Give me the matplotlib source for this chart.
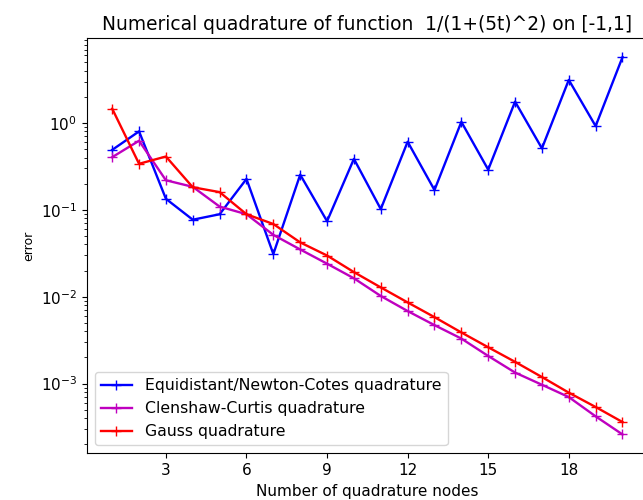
import numpy as np
import matplotlib
matplotlib.use('Agg')
import matplotlib.pyplot as plt

# number of quadrature nodes
nodes = list(range(1, 21))

# errors
err_equi = [0.49, 0.80, 0.134, 0.077, 0.089, 0.227, 0.031, 0.254, 0.074, 0.386,
            0.102, 0.608, 0.169, 1.03, 0.29, 1.76, 0.51, 3.13, 0.92, 5.72]
err_cc = [0.404, 0.624, 0.219, 0.184, 0.109, 0.089, 0.0515, 0.035, 0.024, 0.0163,
          0.0102, 0.00684, 0.00471, 0.0033, 0.00208, 0.00134, 0.00097, 0.0007, 0.00042, 0.00026]
err_gauss = [1.46, 0.339, 0.411, 0.182, 0.160, 0.089, 0.0687, 0.0422, 0.0298, 0.0192,
             0.0128, 0.0086, 0.00582, 0.00388, 0.00262, 0.00178, 0.00119, 0.000787, 0.000538, 0.000361]

fig = plt.figure(figsize=(6.43, 5.0), dpi=100)
ax = fig.add_axes([0.1348, 0.0934, 0.873, 0.83])

ax.semilogy(nodes, err_equi, 'b+-', lw=1.7, ms=7, label='Equidistant/Newton-Cotes quadrature')
ax.semilogy(nodes, err_cc, 'm+-', lw=1.7, ms=7, label='Clenshaw-Curtis quadrature')
ax.semilogy(nodes, err_gauss, 'r+-', lw=1.7, ms=7, label='Gauss quadrature')

ax.set_xticks(range(3, 21, 3))
ax.tick_params(labelsize=11)
ax.set_xlabel('Number of quadrature nodes', fontsize=11)
ax.set_ylabel('error', fontsize=9)
ax.set_title('Numerical quadrature of function  1/(1+(5t)^2) on [-1,1]', fontsize=13.4)
ax.legend(loc='lower left', fontsize=11.3)

fig.savefig('out.png', dpi=100)
